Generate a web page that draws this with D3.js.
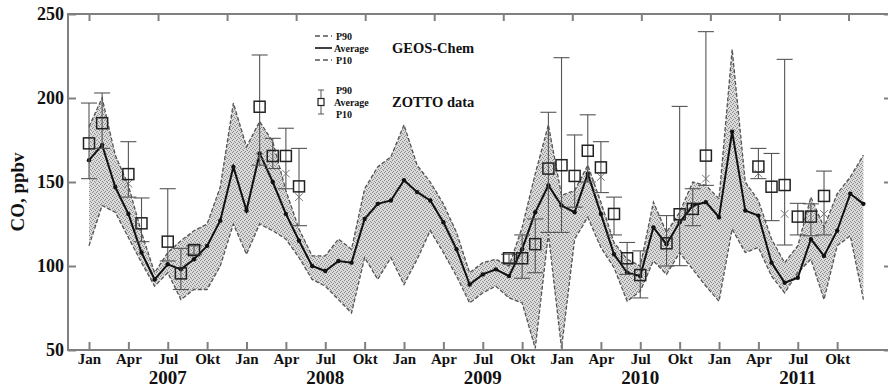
<!DOCTYPE html>
<html>
<head>
<meta charset="utf-8">
<script src="https://cdn.jsdelivr.net/npm/d3@7"></script>
<style>
  body { margin: 0; background: #fff; }
  svg { display: block; }
  text { font-family: 'Liberation Serif', 'DejaVu Serif', serif; font-weight: bold; fill: #111; }
</style>
</head>
<body>
<div id="chart"></div>
<script>
// month labels on the bottom axis, one every 3 months
const monthLabels = ['Jan', 'Apr', 'Jul', 'Okt'];
const years = [2007, 2008, 2009, 2010, 2011];
const yTicks = [50, 100, 150, 200, 250];

// GEOS-Chem, monthly Jan 2007 .. Dec 2011 (ppbv)
const geosAvg = [
  163, 172, 147, 131, 108, 92, 101, 98, 104, 112, 127, 159,
  133, 167, 150, 131, 115, 100, 97, 103, 102, 128, 137, 139,
  151, 144, 139, 126, 110, 89, 95, 98, 94, 110, 132, 148,
  136, 132, 155, 131, 107, 96, 94, 123, 113, 126, 136, 138,
  129, 180, 133, 130, 102, 90, 93, 116, 106, 121, 143, 137
];
const geosP90 = [
  183, 200, 166, 148, 120, 96, 108, 115, 121, 125, 147, 197,
  171, 186, 174, 145, 122, 106, 106, 116, 110, 146, 159, 165,
  184, 160, 150, 137, 120, 96, 102, 104, 100, 123, 155, 184,
  142, 145, 160, 138, 114, 104, 100, 138, 120, 132, 150, 148,
  140, 229, 150, 139, 116, 102, 112, 141, 123, 143, 153, 166
];
const geosP10 = [
  112, 136, 132, 117, 102, 88, 96, 80, 86, 86, 100, 125,
  107, 125, 121, 116, 105, 92, 88, 80, 72, 105, 92, 105,
  89, 104, 121, 108, 94, 78, 84, 88, 81, 78, 51, 119,
  51, 116, 129, 111, 99, 79, 85, 103, 95, 108, 98, 88,
  79, 122, 108, 111, 94, 84, 96, 104, 80, 112, 118, 80
];

// ZOTTO observations (month index from Jan 2007)
const zottoMonth = [0, 1, 3, 4, 6, 7, 8, 13, 14, 15, 16, 32, 33, 34, 35, 36, 37, 38, 39, 40, 41, 42, 44, 45, 46, 47, 51, 52, 53, 54, 55, 56];
const zottoAvg = [173, 185, 154.7, 125.4, 114.5, 95.6, 109.5, 194.8, 165.5, 165.5, 147.4, 104.6, 104.6, 113, 158, 160, 153.6, 168.6, 158.7, 131, 104.6, 94.6, 113.5, 130.8, 134, 165.7, 159.2, 147.2, 148.2, 129.4, 129.4, 141.7];
const zottoP90 = [197, 203, 174, 140.5, 146, 110.5, 112, 225.6, 176, 182, 170, 107, 118.5, 128, 191.5, 224, 178, 190, 174, 141, 114, 109, 130, 195, 146, 239.5, 170, 167, 223, 137.3, 137, 156.5];
const zottoP10 = [152, 170, 141, 114.5, 103, 86, 107, 160, 158, 146, 124, 102, 92.7, 96, 120, 120, 135, 150, 143.7, 118.5, 95, 81, 100, 100.2, 124, 148, 152, 127, 112.5, 118.5, 118, 118.5];
const zottoMed = [null, null, 149, null, null, null, null, 165, null, 155, 141, null, null, null, null, null, null, null, 153, null, null, null, null, null, null, 152, 155, null, 131, null, null, 131];

const W = 888, H = 389;
const pLeft = 68, pTop = 14, pBottom = 350, pRight = 892;

const svg = d3.select('#chart').append('svg')
  .attr('width', W)
  .attr('height', H);

const x = d3.scaleLinear().domain([0, 59]).range([89, 863.4]);
const y = d3.scaleLinear().domain([50, 250]).range([pBottom, pTop]);

// stipple fill
const defs = svg.append('defs');
const pat = defs.append('pattern')
  .attr('id', 'stipple')
  .attr('patternUnits', 'userSpaceOnUse')
  .attr('width', 4)
  .attr('height', 4);
pat.append('rect').attr('width', 4).attr('height', 4).attr('fill', '#dadada');
[[0, 0], [2, 1], [1, 3], [3, 2]].forEach(p => {
  pat.append('rect').attr('x', p[0]).attr('y', p[1]).attr('width', 1).attr('height', 1).attr('fill', '#8c8c8c');
});

const months = d3.range(geosAvg.length);

// band between P10 and P90
svg.append('path')
  .datum(months)
  .attr('fill', 'url(#stipple)')
  .attr('d', d3.area()
    .x(m => x(m))
    .y0(m => y(geosP10[m]))
    .y1(m => y(geosP90[m])));

// dashed P90 / P10 edges
[geosP90, geosP10].forEach(s => {
  svg.append('path')
    .datum(months)
    .attr('fill', 'none')
    .attr('stroke', '#555')
    .attr('stroke-width', 1.3)
    .attr('stroke-dasharray', '4,2')
    .attr('d', d3.line().x(m => x(m)).y(m => y(s[m])));
});

// GEOS-Chem average
svg.append('path')
  .datum(months)
  .attr('fill', 'none')
  .attr('stroke', '#111')
  .attr('stroke-width', 2)
  .attr('d', d3.line().x(m => x(m)).y(m => y(geosAvg[m])));

svg.append('g')
  .selectAll('circle')
  .data(months)
  .join('circle')
  .attr('cx', m => x(m))
  .attr('cy', m => y(geosAvg[m]))
  .attr('r', 2.2)
  .attr('fill', '#111');

// ZOTTO error bars
const zi = d3.range(zottoMonth.length);
const bars = svg.append('g').attr('stroke', '#555').attr('stroke-width', 1.1);
bars.selectAll('line.v')
  .data(zi)
  .join('line')
  .attr('class', 'v')
  .attr('x1', i => x(zottoMonth[i]))
  .attr('x2', i => x(zottoMonth[i]))
  .attr('y1', i => y(zottoP10[i]))
  .attr('y2', i => y(zottoP90[i]));
[zottoP90, zottoP10].forEach((s, k) => {
  bars.selectAll('line.c' + k)
    .data(zi)
    .join('line')
    .attr('class', 'c' + k)
    .attr('x1', i => x(zottoMonth[i]) - 8)
    .attr('x2', i => x(zottoMonth[i]) + 8)
    .attr('y1', i => y(s[i]))
    .attr('y2', i => y(s[i]));
});

// median crosses
const med = zi.filter(i => zottoMed[i] !== null);
svg.append('g')
  .selectAll('path')
  .data(med)
  .join('path')
  .attr('fill', 'none')
  .attr('stroke', '#777')
  .attr('stroke-width', 1)
  .attr('d', d3.symbol(d3.symbolX, 40))
  .attr('transform', i => `translate(${x(zottoMonth[i])},${y(zottoMed[i])})`);

// ZOTTO averages
svg.append('g')
  .selectAll('rect')
  .data(zi)
  .join('rect')
  .attr('x', i => x(zottoMonth[i]) - 5.5)
  .attr('y', i => y(zottoAvg[i]) - 5.5)
  .attr('width', 11)
  .attr('height', 11)
  .attr('fill', 'none')
  .attr('stroke', '#222')
  .attr('stroke-width', 1.5);

// frame
svg.append('rect')
  .attr('x', pLeft)
  .attr('y', pTop)
  .attr('width', pRight - pLeft)
  .attr('height', pBottom - pTop)
  .attr('fill', 'none')
  .attr('stroke', '#808080')
  .attr('stroke-width', 2);

// bottom axis
const xAxis = svg.append('g')
  .attr('transform', `translate(0,${pBottom})`)
  .call(d3.axisBottom(x)
    .tickValues(d3.range(0, 60, 3))
    .tickFormat(m => monthLabels[(m % 12) / 3])
    .tickSizeInner(-8)
    .tickSizeOuter(0)
    .tickPadding(3));
xAxis.select('.domain').remove();
xAxis.selectAll('.tick line').attr('stroke', '#808080').attr('stroke-width', 2);
xAxis.selectAll('text').style('font-size', '15px');

// year labels
svg.append('g')
  .selectAll('text')
  .data(years)
  .join('text')
  .attr('x', (d, i) => x(6 + i * 12))
  .attr('y', 384)
  .attr('text-anchor', 'middle')
  .style('font-size', '19px')
  .text(d => d);

// top axis ticks (every 160 days)
const topAxis = svg.append('g')
  .attr('transform', `translate(0,${pTop})`)
  .call(d3.axisTop(x)
    .tickValues(d3.range(0, 62, 160 * 12 / 365))
    .tickFormat('')
    .tickSizeInner(-7)
    .tickSizeOuter(0));
topAxis.select('.domain').remove();
topAxis.selectAll('.tick line').attr('stroke', '#808080').attr('stroke-width', 2);

// left axis
const yAxis = svg.append('g')
  .attr('transform', `translate(${pLeft},0)`)
  .call(d3.axisLeft(y)
    .tickValues(yTicks)
    .tickSizeInner(-8)
    .tickSizeOuter(0)
    .tickPadding(4));
yAxis.select('.domain').remove();
yAxis.selectAll('.tick line').attr('stroke', '#808080').attr('stroke-width', 2);
yAxis.selectAll('text').style('font-size', '18px');

// right axis (mostly off the page)
const rAxis = svg.append('g')
  .attr('transform', `translate(${pRight},0)`)
  .call(d3.axisRight(y).tickValues(yTicks).tickSizeInner(-8).tickSizeOuter(0).tickFormat(''));
rAxis.select('.domain').remove();
rAxis.selectAll('.tick line').attr('stroke', '#808080').attr('stroke-width', 2);

// axis groups carry their own font attributes; let the stylesheet win
svg.selectAll('.tick text').attr('font-family', null).attr('fill', '#111');

// y label
svg.append('text')
  .attr('transform', 'translate(24,192) rotate(-90)')
  .attr('text-anchor', 'middle')
  .style('font-size', '19px')
  .text('CO, ppbv');

// legend
const lg = svg.append('g');
const lgRows = [
  { y: 36, label: 'P90', dash: '5,3', w: 1.3 },
  { y: 48, label: 'Average', dash: null, w: 1.6 },
  { y: 60, label: 'P10', dash: '5,3', w: 1.3 }
];
lgRows.forEach(r => {
  lg.append('line')
    .attr('x1', 315).attr('x2', 332)
    .attr('y1', r.y).attr('y2', r.y)
    .attr('stroke', r.dash ? '#555' : '#111')
    .attr('stroke-width', r.w)
    .attr('stroke-dasharray', r.dash);
  lg.append('text')
    .attr('x', r.label === 'Average' ? 334 : 336)
    .attr('y', r.y + 3.5)
    .style('font-size', '10px')
    .text(r.label);
});
lg.append('text').attr('x', 392).attr('y', 53).style('font-size', '14.5px').text('GEOS-Chem');

const zy = [90, 102, 114];
lg.append('line').attr('x1', 321).attr('x2', 321).attr('y1', zy[0]).attr('y2', zy[2]).attr('stroke', '#555');
lg.append('line').attr('x1', 318).attr('x2', 324).attr('y1', zy[0]).attr('y2', zy[0]).attr('stroke', '#555');
lg.append('line').attr('x1', 318).attr('x2', 324).attr('y1', zy[2]).attr('y2', zy[2]).attr('stroke', '#555');
lg.append('rect').attr('x', 318).attr('y', zy[1] - 3.5).attr('width', 6).attr('height', 7)
  .attr('fill', '#fff').attr('stroke', '#222').attr('stroke-width', 1.2);
['P90', 'Average', 'P10'].forEach((t, i) => {
  lg.append('text')
    .attr('x', t === 'Average' ? 334 : 336)
    .attr('y', zy[i] + 3.5)
    .style('font-size', '10px')
    .text(t);
});
lg.append('text').attr('x', 392).attr('y', 107).style('font-size', '14.5px').text('ZOTTO data');
</script>
</body>
</html>
